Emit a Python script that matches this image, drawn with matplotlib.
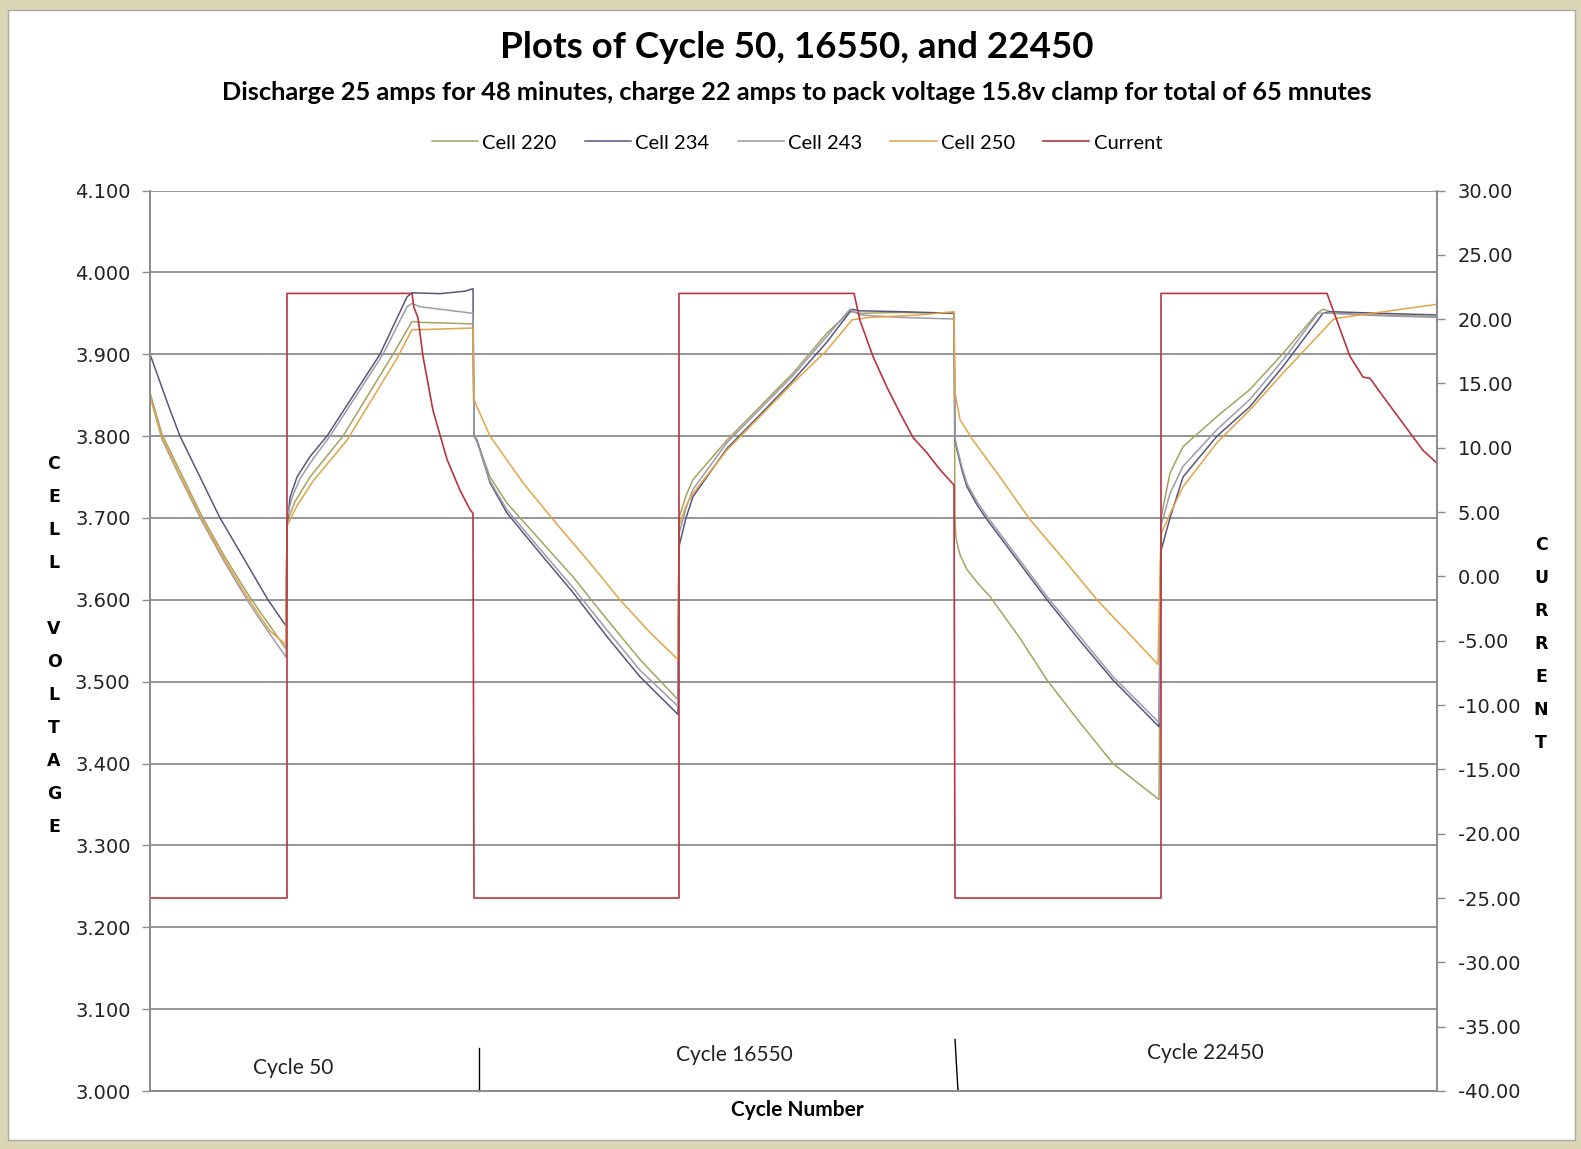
import matplotlib
matplotlib.use('Agg')
import matplotlib.pyplot as plt
from matplotlib.patches import Rectangle
from matplotlib.ticker import MultipleLocator, FormatStrFormatter

# Sample index along the run (three cycles back to back)
cell_220_x = [0, 12, 30, 52, 75, 100, 120, 136,
              137, 145, 160, 193, 243, 262, 270, 323,
              324, 327, 340, 357, 390, 423, 457, 490, 528,
              529, 536, 543, 577, 610, 643, 677, 700, 710, 750, 804,
              805, 806, 810, 817, 828, 840, 870, 897, 930, 963, 1009,
              1011, 1020, 1033, 1067, 1100, 1133, 1167, 1173, 1185, 1230, 1287]
cell_220_v = [3.853, 3.802, 3.757, 3.702, 3.652, 3.603, 3.568, 3.540,
              3.695, 3.720, 3.750, 3.800, 3.900, 3.940, 3.939, 3.937,
              3.800, 3.794, 3.750, 3.718, 3.673, 3.628, 3.576, 3.527, 3.478,
              3.700, 3.727, 3.747, 3.795, 3.836, 3.877, 3.926, 3.952, 3.950, 3.951, 3.950,
              3.700, 3.675, 3.655, 3.637, 3.620, 3.604, 3.553, 3.502, 3.450, 3.400, 3.356,
              3.700, 3.755, 3.787, 3.824, 3.857, 3.901, 3.950, 3.955, 3.950, 3.948, 3.946]

cell_234_x = [0, 10, 20, 30, 50, 70, 95, 118, 136,
              137, 140, 147, 160, 177, 230, 257, 262, 290, 315, 323,
              324, 327, 340, 357, 390, 423, 457, 490, 528,
              529, 536, 543, 577, 610, 643, 677, 702, 710, 750, 804,
              805, 807, 812, 817, 827, 837, 867, 897, 930, 963, 1009,
              1011, 1020, 1033, 1067, 1100, 1133, 1173, 1180, 1230, 1287]
cell_234_v = [3.900, 3.866, 3.832, 3.800, 3.750, 3.700, 3.648, 3.600, 3.568,
              3.690, 3.725, 3.750, 3.775, 3.800, 3.900, 3.970, 3.975, 3.974, 3.977, 3.980,
              3.800, 3.795, 3.743, 3.706, 3.657, 3.609, 3.555, 3.506, 3.460,
              3.665, 3.700, 3.726, 3.785, 3.826, 3.868, 3.915, 3.955, 3.953, 3.952, 3.950,
              3.795, 3.783, 3.758, 3.738, 3.716, 3.698, 3.649, 3.600, 3.550, 3.502, 3.445,
              3.660, 3.700, 3.750, 3.800, 3.836, 3.885, 3.950, 3.952, 3.950, 3.948]

cell_243_x = [0, 12, 30, 52, 75, 100, 120, 136,
              137, 142, 150, 163, 180, 233, 257, 262, 270, 323,
              324, 327, 340, 357, 390, 423, 457, 490, 528,
              529, 536, 543, 577, 610, 643, 677, 700, 710, 750, 804,
              805, 807, 812, 817, 827, 837, 867, 897, 930, 963, 1009,
              1011, 1020, 1033, 1067, 1100, 1133, 1168, 1180, 1230, 1287]
cell_243_v = [3.850, 3.796, 3.750, 3.696, 3.645, 3.594, 3.558, 3.530,
              3.700, 3.725, 3.748, 3.772, 3.800, 3.900, 3.958, 3.962, 3.958, 3.950,
              3.800, 3.793, 3.745, 3.710, 3.662, 3.615, 3.563, 3.514, 3.470,
              3.680, 3.712, 3.735, 3.792, 3.833, 3.874, 3.922, 3.955, 3.948, 3.945, 3.943,
              3.798, 3.786, 3.762, 3.742, 3.720, 3.702, 3.653, 3.604, 3.555, 3.506, 3.450,
              3.690, 3.730, 3.763, 3.808, 3.845, 3.893, 3.950, 3.950, 3.947, 3.945]

cell_250_x = [0, 12, 30, 52, 75, 100, 120, 136,
              137, 147, 163, 197, 247, 262, 270, 323,
              324, 340, 373, 403, 440, 470, 500, 528,
              529, 536, 543, 577, 610, 643, 677, 702, 720, 770, 804,
              805, 810, 823, 850, 880, 914, 947, 978, 1008,
              1011, 1020, 1033, 1067, 1100, 1133, 1183, 1187, 1287]
cell_250_v = [3.848, 3.798, 3.752, 3.698, 3.648, 3.598, 3.562, 3.545,
              3.690, 3.715, 3.745, 3.795, 3.895, 3.930, 3.930, 3.932,
              3.844, 3.800, 3.743, 3.698, 3.645, 3.600, 3.560, 3.527,
              3.690, 3.715, 3.730, 3.783, 3.824, 3.865, 3.905, 3.942, 3.945, 3.948, 3.952,
              3.853, 3.820, 3.795, 3.750, 3.698, 3.649, 3.600, 3.560, 3.521,
              3.680, 3.705, 3.738, 3.792, 3.832, 3.877, 3.942, 3.944, 3.961]

current_x = [0, 137, 137, 262, 264, 268, 273, 283, 297, 310, 320, 323, 324,
             529, 529, 704, 710, 723, 737, 750, 763, 777, 790, 804, 805,
             1011, 1011, 1177, 1200, 1213, 1220, 1233, 1253, 1273, 1287]
current_a = [-25, -25, 22, 22, 20.9, 20.1, 17.1, 12.9, 9.1, 6.7, 5.2, 4.9, -25,
             -25, 22, 22, 19.9, 17.1, 14.7, 12.7, 10.8, 9.6, 8.3, 7.1, -25,
             -25, 22, 22, 17.1, 15.5, 15.4, 14.0, 11.9, 9.8, 8.8]

cycle_names = ['Cycle 50', 'Cycle 16550', 'Cycle 22450']

TITLE_FONT = 'Lato'
TICK_FONT = 'DejaVu Sans'
GRID = '#8c8c8c'

fig = plt.figure(figsize=(15.81, 11.49), dpi=100)
fig.patch.set_facecolor('#ddd6b6')
fig.patches.append(Rectangle((8 / 1581, 9 / 1149), 1567 / 1581, 1130 / 1149,
                             transform=fig.transFigure, facecolor='white',
                             edgecolor='#a8a8a8', linewidth=1.0, zorder=-5))

ax = fig.add_axes([150 / 1581, 58 / 1149, 1287 / 1581, 900.5 / 1149])
ax.set_facecolor('none')
ax2 = ax.twinx()
ax2.set_facecolor('none')

# voltage traces
l220, = ax.plot(cell_220_x, cell_220_v, color='#a6a262', lw=1.1, label='Cell 220')
l234, = ax.plot(cell_234_x, cell_234_v, color='#57577c', lw=1.1, label='Cell 234')
l243, = ax.plot(cell_243_x, cell_243_v, color='#9c9caa', lw=1.1, label='Cell 243')
l250, = ax.plot(cell_250_x, cell_250_v, color='#e2a447', lw=1.1, label='Cell 250')
# current on the secondary axis
lcur, = ax2.plot(current_x, current_a, color='#b83440', lw=1.2, label='Current')

ax.set_xlim(0, 1287)
ax.set_ylim(3.0, 4.1)
ax2.set_ylim(-40, 30)
ax.yaxis.set_major_locator(MultipleLocator(0.1))
ax.yaxis.set_major_formatter(FormatStrFormatter('%.3f'))
ax2.yaxis.set_major_locator(MultipleLocator(5))
ax2.yaxis.set_major_formatter(FormatStrFormatter('%.2f'))
ax.set_xticks([])
ax.grid(axis='y', color=GRID, lw=1.3)
ax.set_axisbelow(True)

for a in (ax, ax2):
    for s in a.spines.values():
        s.set_color(GRID)
        s.set_linewidth(1.2)
    a.spines['top'].set_visible(False)
ax.tick_params(axis='y', length=6, width=1, color=GRID, pad=8, labelsize=14,
               labelcolor='#222222')
ax2.tick_params(axis='y', length=6, width=1, color=GRID, pad=9, labelsize=14,
                labelcolor='#222222')
for lab in ax.get_yticklabels() + ax2.get_yticklabels():
    lab.set_family(TICK_FONT)

# cycle labels and separators along the bottom
ax.plot([329, 329], [3.052, 3.0], color='black', lw=1.0, clip_on=False)
ax.plot([805, 808], [3.063, 3.0], color='black', lw=1.0, clip_on=False)
for name, xc, yc in zip(cycle_names, [143, 584, 1055], [3.0275, 3.0434, 3.046]):
    ax.text(xc, yc, name, ha='center', va='center', fontsize=15,
            family=TITLE_FONT, color='#222222')

fig.text(797 / 1581, 1 - 1110 / 1149, 'Cycle Number', ha='center', va='center',
         fontsize=15, fontweight='bold', family=TITLE_FONT)

# stacked-letter axis titles
for i, ch in enumerate('CELL VOLTAGE'):
    fig.text(54 / 1581, 1 - (464 + 33 * i) / 1149, ch, ha='center', va='center',
             fontsize=12.5, fontweight='bold', family=TICK_FONT)
for i, ch in enumerate('CURRENT'):
    fig.text(1541 / 1581, 1 - (545 + 33 * i) / 1149, ch, ha='center', va='center',
             fontsize=12.5, fontweight='bold', family=TICK_FONT)

fig.text(797 / 1581, 1 - 48 / 1149, 'Plots of Cycle 50, 16550, and 22450',
         ha='center', va='center', fontsize=26.5, fontweight='bold', family=TITLE_FONT)
fig.text(797 / 1581, 1 - 92 / 1149,
         'Discharge 25 amps for 48 minutes, charge 22 amps to pack voltage 15.8v clamp for total of 65 mnutes',
         ha='center', va='center', fontsize=18.3, fontweight='bold', family=TITLE_FONT)

fig.legend(handles=[l220, l234, l243, l250, lcur], loc='center',
           bbox_to_anchor=(797 / 1581, 1 - 143 / 1149), ncol=5, frameon=False,
           prop={'family': TITLE_FONT, 'size': 14.5}, handlelength=2.3,
           handletextpad=0.2, columnspacing=1.4)

fig.savefig('out.png', dpi=100, facecolor=fig.get_facecolor())
